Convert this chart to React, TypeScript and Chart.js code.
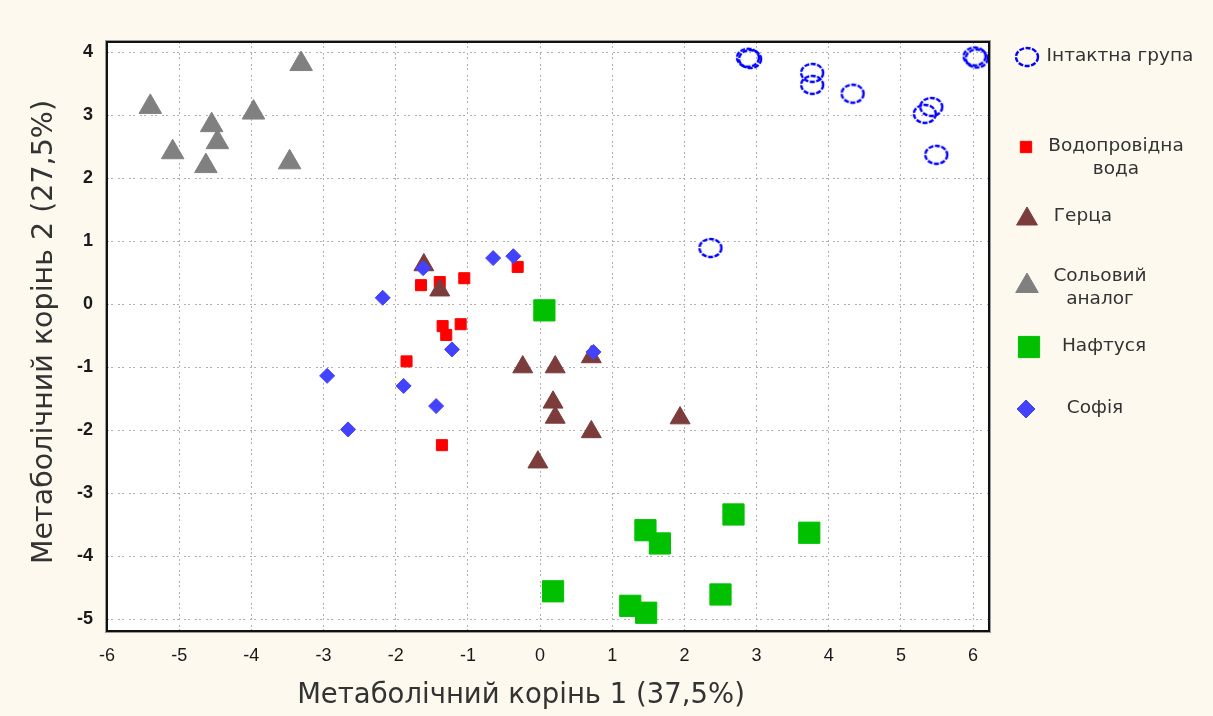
import React, { useEffect, useRef } from 'react';
import { Chart, registerables } from 'chart.js';
import { drawPoint } from 'chart.js/helpers';

Chart.register(...registerables);

// ---------- data ----------
const SERIES_LABELS = ['Інтактна група', 'Водопровідна вода', 'Герца', 'Сольовий аналог', 'Нафтуся', 'Софія'];
const LEGEND_LINES = [['Інтактна група'], ['Водопровідна', 'вода'], ['Герца'], ['Сольовий', 'аналог'], ['Нафтуся'], ['Софія']];

const intactX = [2.88, 2.91, 3.77, 3.77, 4.33, 5.33, 5.42, 5.49, 6.02, 6.05, 2.36];
const intactY = [3.91, 3.89, 3.67, 3.48, 3.34, 3.02, 3.13, 2.37, 3.93, 3.9, 0.89];

const waterX = [-0.31, -1.65, -1.39, -1.05, -1.35, -1.3, -1.1, -1.85, -1.36];
const waterY = [0.59, 0.3, 0.35, 0.41, -0.35, -0.49, -0.32, -0.91, -2.24];

const hertzX = [-1.61, -1.39, -0.24, 0.21, 0.71, 0.18, 0.21, 0.71, -0.03, 1.94];
const hertzY = [0.62, 0.22, -1.0, -1.0, -0.84, -1.56, -1.8, -2.03, -2.51, -1.81];

const saltX = [-3.31, -5.4, -3.97, -4.55, -4.47, -5.09, -4.63, -3.47];
const saltY = [3.81, 3.13, 3.04, 2.84, 2.57, 2.41, 2.19, 2.25];

const naftX = [2.68, 1.46, 1.66, 3.73, 2.5, 1.25, 1.47, 0.18, 0.06];
const naftY = [-3.34, -3.59, -3.8, -3.63, -4.61, -4.79, -4.9, -4.56, -0.1];

const sofiaX = [-0.65, -0.37, -1.62, -2.18, -1.22, 0.74, -1.89, -1.44, -2.95, -2.66];
const sofiaY = [0.73, 0.76, 0.57, 0.1, -0.72, -0.76, -1.3, -1.62, -1.14, -1.99];

const X_TICKS = [-6, -5, -4, -3, -2, -1, 0, 1, 2, 3, 4, 5, 6];
const Y_TICKS = [4, 3, 2, 1, 0, -1, -2, -3, -4, -5];
const X_TITLE = 'Метаболічний корінь 1 (37,5%)';
const Y_TITLE = 'Метаболічний корінь 2 (27,5%)';

// ---------- styles ----------
const SERIES_X = [intactX, waterX, hertzX, saltX, naftX, sofiaX];
const SERIES_Y = [intactY, waterY, hertzY, saltY, naftY, sofiaY];
const STYLES = [
  { pointStyle: 'circle', radius: 10, fill: 'rgba(0,0,0,0)', stroke: '#0000ff', bw: 2.2 },
  { pointStyle: 'rect', radius: 7.8, fill: '#ff0000', stroke: '#ff0000', bw: 1 },
  { pointStyle: 'triangle', radius: 11.5, fill: '#7c3c3c', stroke: '#7c3c3c', bw: 1 },
  { pointStyle: 'triangle', radius: 13, fill: '#808080', stroke: '#808080', bw: 1 },
  { pointStyle: 'rect', radius: 15, fill: '#00c000', stroke: '#00c000', bw: 1 },
  { pointStyle: 'rectRot', radius: 7.5, fill: '#4343ff', stroke: '#4343ff', bw: 1 },
];

const LEGEND_LAYOUT = [
  { mx: 1027, my: 57, r: 8, tx: 1120, ty: [56] },
  { mx: 1026, my: 147, r: 8, tx: 1116, ty: [146, 169] },
  { mx: 1027, my: 219, r: 12, tx: 1083, ty: [216] },
  { mx: 1027, my: 286, r: 13, tx: 1100, ty: [276, 299] },
  { mx: 1029, my: 347, r: 15, tx: 1104, ty: [346] },
  { mx: 1026, my: 409, r: 9, tx: 1095, ty: [408] },
];

const BG = '#fdf9ef';

let RING: HTMLCanvasElement | null = null;

function makeRing(): HTMLCanvasElement {
  const c = document.createElement('canvas');
  c.width = 28;
  c.height = 24;
  const g = c.getContext('2d')!;
  g.strokeStyle = '#0000ff';
  g.lineWidth = 2.4;
  g.setLineDash([5, 1.5]);
  g.beginPath();
  g.ellipse(14, 12, 11, 9, 0, 0, Math.PI * 2);
  g.stroke();
  return c;
}

const decorPlugin = {
  id: 'decor',
  beforeDraw(chart: any) {
    const { ctx, chartArea: a, width, height } = chart;
    ctx.save();
    ctx.fillStyle = BG;
    ctx.fillRect(0, 0, width, height);
    ctx.fillStyle = '#ffffff';
    ctx.fillRect(a.left, a.top, a.right - a.left, a.bottom - a.top);
    ctx.restore();
  },
  afterDraw(chart: any) {
    const { ctx, chartArea: a } = chart;
    ctx.save();
    // plot frame
    ctx.strokeStyle = '#9a9a9a';
    ctx.lineWidth = 1;
    ctx.strokeRect(a.left - 1.5, a.top - 1.5, a.right - a.left + 3, a.bottom - a.top + 3);
    ctx.strokeStyle = '#111111';
    ctx.lineWidth = 2;
    ctx.strokeRect(a.left, a.top, a.right - a.left, a.bottom - a.top);

    // axis titles
    ctx.fillStyle = '#333333';
    ctx.textAlign = 'center';
    ctx.textBaseline = 'middle';
    ctx.font = '27.5px "DejaVu Sans"';
    ctx.fillText(X_TITLE, 521, 696);
    ctx.save();
    ctx.translate(45, 332);
    ctx.rotate(-Math.PI / 2);
    ctx.font = '28.5px "DejaVu Sans"';
    ctx.fillText(Y_TITLE, 0, 0);
    ctx.restore();

    // legend
    ctx.font = '18.5px "DejaVu Sans"';
    ctx.fillStyle = '#333333';
    LEGEND_LAYOUT.forEach((L, i) => {
      const s = STYLES[i];
      ctx.save();
      if (i === 0) {
        if (RING) ctx.drawImage(RING, L.mx - RING.width / 2, L.my - RING.height / 2);
      } else {
        ctx.fillStyle = s.fill;
        ctx.strokeStyle = s.stroke;
        ctx.lineWidth = s.bw;
        drawPoint(ctx, { pointStyle: s.pointStyle, radius: L.r, rotation: 0, borderWidth: s.bw } as any, L.mx, L.my);
      }
      ctx.restore();
      LEGEND_LINES[i].forEach((line, k) => {
        ctx.fillText(line, L.tx, L.ty[k]);
      });
    });
    ctx.restore();
  },
};

export default function App() {
  const ref = useRef<HTMLCanvasElement | null>(null);

  useEffect(() => {
    document.body.style.margin = '0';
    document.body.style.background = BG;
    const canvas = ref.current;
    if (!canvas) return;
    RING = makeRing();
    const datasets = SERIES_LABELS.map((label, i) => ({
      label,
      order: SERIES_LABELS.length - i,
      data: SERIES_X[i].map((x, j) => ({ x, y: SERIES_Y[i][j] })),
      pointStyle: i === 0 ? RING : STYLES[i].pointStyle,
      pointRadius: STYLES[i].radius,
      pointBackgroundColor: STYLES[i].fill,
      pointBorderColor: STYLES[i].stroke,
      pointBorderWidth: STYLES[i].bw,
      showLine: false,
    }));

    const tickFont = { family: '"Liberation Sans"', size: 18 };
    const chart: any = new Chart(canvas, {
      type: 'scatter',
      data: { datasets: datasets as any },
      plugins: [decorPlugin],
      options: {
        responsive: false,
        animation: false,
        events: [],
        layout: { padding: { top: 42, right: 224, left: 0, bottom: 0 } },
        plugins: { legend: { display: false }, tooltip: { enabled: false } },
        scales: {
          x: {
            type: 'linear',
            position: 'bottom',
            min: -6,
            max: 6.22,
            afterBuildTicks: (s: any) => {
              s.ticks = X_TICKS.map((v) => ({ value: v }));
            },
            afterFit: (s: any) => {
              s.height = 85;
            },
            ticks: {
              font: tickFont,
              color: '#1a1a1a',
              padding: 14,
              maxRotation: 0,
              autoSkip: false,
              callback: (v: any) => String(v),
            },
            grid: { color: '#b0b0b0', lineWidth: 1, drawTicks: false },
            border: { display: false, dash: [2, 2, 2, 5] },
          },
          y: {
            type: 'linear',
            position: 'left',
            min: -5.19,
            max: 4.16,
            afterBuildTicks: (s: any) => {
              s.ticks = Y_TICKS.map((v) => ({ value: v }));
            },
            afterFit: (s: any) => {
              s.width = 107;
            },
            ticks: {
              font: { ...tickFont, weight: 'bold' },
              color: '#1a1a1a',
              padding: 14,
              autoSkip: false,
              callback: (v: any) => String(v),
            },
            grid: { color: '#b0b0b0', lineWidth: 1, drawTicks: false },
            border: { display: false, dash: [2, 2, 2, 5] },
          },
        },
      } as any,
    });
    return () => chart.destroy();
  }, []);

  return (
    <div style={{ width: 1213, height: 716, background: BG }}>
      <canvas ref={ref} width={1213} height={716} style={{ width: 1213, height: 716, display: 'block' }} />
    </div>
  );
}
